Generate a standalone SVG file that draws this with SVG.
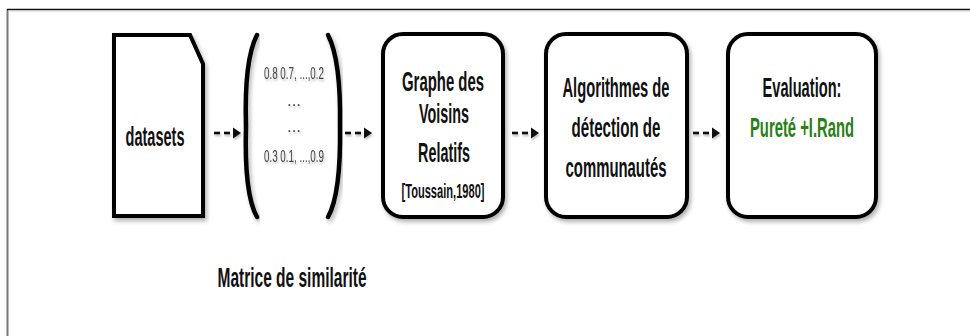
<svg xmlns="http://www.w3.org/2000/svg" width="970" height="336" viewBox="0 0 970 336">
<defs>
<filter id="sh" x="-20%" y="-20%" width="140%" height="140%">
<feDropShadow dx="2" dy="3" stdDeviation="2" flood-color="#000" flood-opacity="0.3"/>
</filter>
<filter id="tsh" x="-30%" y="-60%" width="160%" height="220%">
<feDropShadow dx="1" dy="2" stdDeviation="1.2" flood-color="#000" flood-opacity="0.25"/>
</filter>
<g id="arrow">
<rect x="0" y="-1.3" width="6" height="2.6"/>
<rect x="10" y="-1.3" width="6" height="2.6"/>
<polygon points="19,-5.5 27,0 19,5.5"/>
</g>
</defs>
<style>
.box{fill:#fff;stroke:#000;stroke-width:4;filter:url(#sh)}
.br{fill:none;stroke:#000;stroke-width:4.5;stroke-linecap:round;filter:url(#sh)}
.t{font-family:"Liberation Sans",Arial,sans-serif;font-weight:bold;fill:#111;text-anchor:middle}
.m{font-family:"Liberation Sans",Arial,sans-serif;fill:#444;text-anchor:middle;font-size:17px;filter:url(#tsh)}
.arr{fill:#111;filter:url(#tsh)}
</style>
<rect width="970" height="336" fill="#fff"/>
<g id="frame">
<line x1="7.5" y1="9" x2="7.5" y2="336" stroke="#777" stroke-width="2"/>
<line x1="7" y1="9.5" x2="970" y2="9.5" stroke="#111" stroke-width="1.5"/>
<line x1="8" y1="11" x2="970" y2="11" stroke="#ccc" stroke-width="1"/>
</g>
<g id="datasets">
<path class="box" d="M114,35 L190,35 L203,64 L203,216 L114,216 Z"/>
<text class="t" x="155" y="146" font-size="27" textLength="59" lengthAdjust="spacingAndGlyphs">datasets</text>
</g>
<g id="matrice">
<path class="br" d="M257,35 Q244,60 246,126 Q244,194 257,217"/>
<path class="br" d="M328,35 Q341,60 340,126 Q341,194 328,217"/>
<text class="m" x="294" y="79" textLength="60" lengthAdjust="spacingAndGlyphs">0.8 0.7, ...,0.2</text>
<text class="m" x="294" y="106" font-size="11">...</text>
<text class="m" x="294" y="132" font-size="11">...</text>
<text class="m" x="294" y="162" textLength="60" lengthAdjust="spacingAndGlyphs">0.3 0.1, ...,0.9</text>
<text class="t" x="292" y="287" font-size="28" textLength="149" lengthAdjust="spacingAndGlyphs">Matrice de similarité</text>
</g>
<g id="graphe">
<rect class="box" x="383" y="34" width="120" height="183" rx="20"/>
<text class="t" x="443" y="91" font-size="28" textLength="82" lengthAdjust="spacingAndGlyphs">Graphe des</text>
<text class="t" x="444" y="123" font-size="28" textLength="50" lengthAdjust="spacingAndGlyphs">Voisins</text>
<text class="t" x="444" y="162" font-size="28" textLength="52" lengthAdjust="spacingAndGlyphs">Relatifs</text>
<text class="t" x="443" y="198" font-size="20" font-weight="normal" textLength="83" lengthAdjust="spacingAndGlyphs">[Toussain,1980]</text>
</g>
<g id="algorithmes">
<rect class="box" x="546" y="34" width="141" height="183" rx="20"/>
<text class="t" x="616" y="97" font-size="28" textLength="107" lengthAdjust="spacingAndGlyphs">Algorithmes de</text>
<text class="t" x="616" y="137" font-size="28" textLength="89" lengthAdjust="spacingAndGlyphs">détection de</text>
<text class="t" x="616" y="177" font-size="28" textLength="101" lengthAdjust="spacingAndGlyphs">communautés</text>
</g>
<g id="evaluation">
<rect class="box" x="728" y="34" width="148" height="183" rx="20"/>
<text class="t" x="802" y="97" font-size="28" textLength="79" lengthAdjust="spacingAndGlyphs">Evaluation:</text>
<text class="t" x="802" y="137" font-size="28" style="fill:#2a7f16" textLength="104" lengthAdjust="spacingAndGlyphs">Pureté +I.Rand</text>
</g>
<g id="connectors">
<use href="#arrow" class="arr" x="214" y="133"/>
<use href="#arrow" class="arr" x="345" y="133"/>
<use href="#arrow" class="arr" x="512" y="133"/>
<use href="#arrow" class="arr" x="693" y="133"/>
</g>
</svg>
